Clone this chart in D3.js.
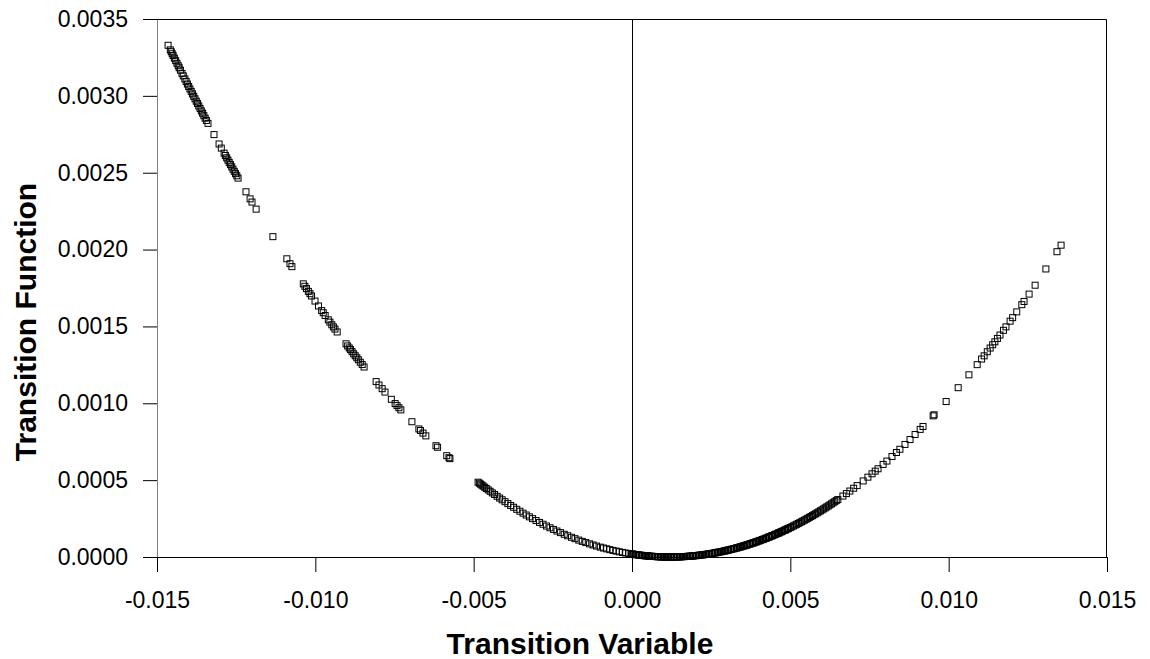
<!DOCTYPE html>
<html>
<head>
<meta charset="utf-8">
<script src="https://cdn.jsdelivr.net/npm/d3@7"></script>
<style>
  body { margin: 0; background: #fff; }
  text { font-family: "Liberation Sans", Arial, sans-serif; }
</style>
</head>
<body>
<div id="chart"></div>
<script>
// values (transition variable, transition function)
let leftX = [-0.01465, -0.01458, -0.01455, -0.01452, -0.01449, -0.01445, -0.01441, -0.01437, -0.01433, -0.01430,
  -0.01426, -0.01421, -0.01417, -0.01412, -0.01408, -0.01404, -0.01400, -0.01396, -0.01392, -0.01388,
  -0.01384, -0.01380, -0.01376, -0.01372, -0.01368, -0.01364, -0.01360, -0.01356, -0.01352, -0.01348,
  -0.01344, -0.01339, -0.01320, -0.01304, -0.01297,
  -0.01288, -0.01284, -0.01280, -0.01276, -0.01272, -0.01268, -0.01264, -0.01260, -0.01256, -0.01252,
  -0.01248, -0.01244, -0.01219, -0.01206, -0.01200, -0.01187, -0.01134, -0.01090, -0.01080, -0.01074,
  -0.01038, -0.01033, -0.01028, -0.01022, -0.01017, -0.01012, -0.01001, -0.00990, -0.00980, -0.00975,
  -0.00969, -0.00959, -0.00954, -0.00948, -0.00943, -0.00938, -0.00931,
  -0.00903, -0.00898, -0.00893, -0.00889, -0.00884, -0.00879, -0.00874, -0.00869, -0.00864, -0.00858,
  -0.00852, -0.00846, -0.00808, -0.00799, -0.00789, -0.00780, -0.00760, -0.00748, -0.00742, -0.00736,
  -0.00730, -0.00695, -0.00673, -0.00668, -0.00660, -0.00651, -0.00619, -0.00614, -0.00585, -0.00578,
  -0.00575];
let leftY = [0.003329, 0.003299, 0.003287, 0.003274, 0.003262, 0.003245, 0.003229, 0.003212, 0.003196, 0.003183,
  0.003167, 0.003146, 0.003130, 0.003110, 0.003094, 0.003077, 0.003061, 0.003045, 0.003029, 0.003013,
  0.002997, 0.002981, 0.002965, 0.002950, 0.002934, 0.002918, 0.002902, 0.002887, 0.002871, 0.002855,
  0.002840, 0.002821, 0.002748, 0.002687, 0.002660,
  0.002627, 0.002612, 0.002597, 0.002582, 0.002567, 0.002553, 0.002538, 0.002523, 0.002509, 0.002494,
  0.002480, 0.002465, 0.002376, 0.002330, 0.002309, 0.002263, 0.002084, 0.001940, 0.001908, 0.001889,
  0.001777, 0.001761, 0.001746, 0.001728, 0.001713, 0.001698, 0.001665, 0.001633, 0.001603, 0.001589,
  0.001571, 0.001543, 0.001528, 0.001511, 0.001497, 0.001483, 0.001464,
  0.001387, 0.001373, 0.001360, 0.001349, 0.001336, 0.001322, 0.001309, 0.001296, 0.001283, 0.001267,
  0.001252, 0.001236, 0.001141, 0.001119, 0.001095, 0.001073, 0.001026, 0.000998, 0.000985, 0.000971,
  0.000957, 0.000880, 0.000833, 0.000823, 0.000806, 0.000788, 0.000724, 0.000714, 0.000659, 0.000646,
  0.000640];

let midX = [-0.00486, -0.00482, -0.00478, -0.00474, -0.00470, -0.00465, -0.00460, -0.00454, -0.00448, -0.00441,
  -0.00434, -0.00426, -0.00418, -0.00410, -0.00401, -0.00392, -0.00383, -0.00374, -0.00364, -0.00354,
  -0.00344, -0.00334, -0.00324, -0.00314, -0.00303, -0.00292, -0.00281, -0.00270, -0.00259, -0.00248,
  -0.00237, -0.00226, -0.00214, -0.00203, -0.00191, -0.00180, -0.00168, -0.00157, -0.00146, -0.00134,
  -0.00123, -0.00112, -0.00100, -0.00090, -0.00080, -0.00070, -0.00060, -0.00050, -0.00040, -0.00030,
  -0.00020, -0.00010, -0.00003];
let midY = [0.0004866, 0.0004802, 0.0004738, 0.0004675, 0.0004612, 0.0004534, 0.0004457, 0.0004366, 0.0004275, 0.0004170,
  0.0004067, 0.0003950, 0.0003835, 0.0003722, 0.0003597, 0.0003473, 0.0003352, 0.0003234, 0.0003104, 0.0002977,
  0.0002853, 0.0002731, 0.0002612, 0.0002496, 0.0002371, 0.0002249, 0.0002131, 0.0002015, 0.0001903, 0.0001794,
  0.0001689, 0.0001586, 0.0001478, 0.0001382, 0.0001282, 0.0001193, 0.0001099, 0.0001017, 0.0000938, 0.0000855,
  0.0000782, 0.0000713, 0.0000641, 0.0000584, 0.0000530, 0.0000478, 0.0000429, 0.0000383, 0.0000339, 0.0000298,
  0.0000260, 0.0000224, 0.0000200];

let rightX = [0.00000, 0.00005, 0.00010, 0.00015, 0.00020, 0.00025, 0.00030, 0.00035, 0.00040, 0.00045,
  0.00050, 0.00055, 0.00060, 0.00065, 0.00070, 0.00075, 0.00080, 0.00085, 0.00090, 0.00095,
  0.00100, 0.00105, 0.00110, 0.00115, 0.00120, 0.00125, 0.00130, 0.00135, 0.00140, 0.00145,
  0.00150, 0.00155, 0.00160, 0.00165, 0.00170, 0.00175, 0.00180, 0.00185, 0.00190, 0.00195,
  0.00200, 0.00205, 0.00210, 0.00215, 0.00220, 0.00225, 0.00230, 0.00235, 0.00240, 0.00245,
  0.00250, 0.00255, 0.00260, 0.00265, 0.00270, 0.00275, 0.00280, 0.00285, 0.00290, 0.00295,
  0.00300, 0.00305, 0.00310, 0.00315, 0.00320, 0.00325, 0.00330, 0.00335, 0.00340, 0.00345,
  0.00350, 0.00355, 0.00360, 0.00365, 0.00370, 0.00375, 0.00380, 0.00385, 0.00390, 0.00395,
  0.00400, 0.00405, 0.00410, 0.00415, 0.00420, 0.00425, 0.00430, 0.00435, 0.00440, 0.00445,
  0.00450, 0.00455, 0.00460, 0.00465, 0.00470, 0.00475, 0.00480, 0.00485, 0.00490, 0.00495,
  0.00500, 0.00505, 0.00510, 0.00515, 0.00520, 0.00525, 0.00530, 0.00535, 0.00540, 0.00545,
  0.00550, 0.00555, 0.00560, 0.00565, 0.00570, 0.00575, 0.00580, 0.00585, 0.00590, 0.00595,
  0.00600, 0.00605, 0.00610, 0.00615, 0.00620, 0.00625, 0.00630, 0.00635, 0.00640, 0.00645,
  0.00650, 0.00666, 0.00677, 0.00688, 0.00700, 0.00711, 0.00730, 0.00745, 0.00758, 0.00768,
  0.00777, 0.00793, 0.00805, 0.00821, 0.00835, 0.00846, 0.00862, 0.00878, 0.00894, 0.00910,
  0.00919, 0.00951, 0.00954, 0.00992, 0.01030, 0.01064, 0.01090, 0.01104, 0.01112, 0.01122,
  0.01131, 0.01139, 0.01146, 0.01154, 0.01162, 0.01173, 0.01181, 0.01194, 0.01202, 0.01215,
  0.01231, 0.01238, 0.01254, 0.01273, 0.01307, 0.01342, 0.01355];
let rightY = [0.0000192, 0.0000176, 0.0000161, 0.0000147, 0.0000133, 0.0000120, 0.0000108, 0.0000096, 0.0000085, 0.0000075,
  0.0000065, 0.0000056, 0.0000048, 0.0000040, 0.0000033, 0.0000027, 0.0000021, 0.0000016, 0.0000012, 0.0000008,
  0.0000005, 0.0000003, 0.0000001, 0.0000000, 0.0000000, 0.0000000, 0.0000001, 0.0000003, 0.0000005, 0.0000008,
  0.0000012, 0.0000016, 0.0000021, 0.0000027, 0.0000033, 0.0000040, 0.0000048, 0.0000056, 0.0000065, 0.0000075,
  0.0000085, 0.0000096, 0.0000108, 0.0000120, 0.0000133, 0.0000147, 0.0000161, 0.0000176, 0.0000192, 0.0000208,
  0.0000225, 0.0000242, 0.0000261, 0.0000280, 0.0000299, 0.0000320, 0.0000340, 0.0000362, 0.0000384, 0.0000407,
  0.0000431, 0.0000455, 0.0000480, 0.0000506, 0.0000532, 0.0000559, 0.0000587, 0.0000615, 0.0000644, 0.0000673,
  0.0000704, 0.0000734, 0.0000766, 0.0000798, 0.0000831, 0.0000865, 0.0000899, 0.0000934, 0.0000970, 0.0001006,
  0.0001043, 0.0001080, 0.0001119, 0.0001157, 0.0001197, 0.0001237, 0.0001278, 0.0001320, 0.0001362, 0.0001405,
  0.0001448, 0.0001493, 0.0001537, 0.0001583, 0.0001629, 0.0001676, 0.0001724, 0.0001772, 0.0001821, 0.0001870,
  0.0001921, 0.0001971, 0.0002023, 0.0002075, 0.0002128, 0.0002182, 0.0002236, 0.0002291, 0.0002346, 0.0002402,
  0.0002459, 0.0002517, 0.0002575, 0.0002634, 0.0002693, 0.0002753, 0.0002814, 0.0002876, 0.0002938, 0.0003001,
  0.0003064, 0.0003129, 0.0003193, 0.0003259, 0.0003325, 0.0003392, 0.0003459, 0.0003527, 0.0003596, 0.0003666,
  0.0003736, 0.0003965, 0.0004126, 0.0004291, 0.0004474, 0.0004645, 0.0004949, 0.0005195, 0.0005414, 0.0005585,
  0.0005741, 0.0006024, 0.0006241, 0.0006536, 0.0006799, 0.0007010, 0.0007322, 0.0007642, 0.0007968, 0.0008301,
  0.0008491, 0.0009184, 0.0009251, 0.0010113, 0.0011014, 0.0011852, 0.0012514, 0.0012878, 0.0013088, 0.0013353,
  0.0013594, 0.0013810, 0.0014000, 0.0014220, 0.0014441, 0.0014747, 0.0014972, 0.0015341, 0.0015571, 0.0015947,
  0.0016416, 0.0016624, 0.0017103, 0.0017681, 0.0018739, 0.0019861, 0.0020286];

// extra points in the dense black band right of zero
let bandX = [0.000025, 0.000125, 0.000225, 0.000325, 0.000425, 0.000525, 0.000625, 0.000725, 0.000825, 0.000925,
  0.001025, 0.001125, 0.001225, 0.001325, 0.001425, 0.001525, 0.001625, 0.001725, 0.001825, 0.001925,
  0.002025, 0.002125, 0.002225, 0.002325, 0.002425, 0.002525, 0.002625, 0.002725, 0.002825, 0.002925,
  0.003025, 0.003125, 0.003225, 0.003325, 0.003425, 0.003525, 0.003625, 0.003725, 0.003825, 0.003925,
  0.004025, 0.004125, 0.004225, 0.004325, 0.004425, 0.004525, 0.004625, 0.004725, 0.004825, 0.004925];
let bandY = [0.0000184, 0.0000154, 0.0000126, 0.0000102, 0.0000080, 0.0000061, 0.0000044, 0.0000030, 0.0000019, 0.0000010,
  0.0000004, 0.0000001, 0.0000000, 0.0000002, 0.0000007, 0.0000014, 0.0000024, 0.0000037, 0.0000052, 0.0000070,
  0.0000091, 0.0000114, 0.0000140, 0.0000168, 0.0000200, 0.0000233, 0.0000270, 0.0000309, 0.0000351, 0.0000396,
  0.0000443, 0.0000493, 0.0000545, 0.0000601, 0.0000658, 0.0000719, 0.0000782, 0.0000848, 0.0000916, 0.0000988,
  0.0001061, 0.0001138, 0.0001217, 0.0001299, 0.0001383, 0.0001470, 0.0001560, 0.0001653, 0.0001748, 0.0001845];

let xTicks = [-0.015, -0.010, -0.005, 0.000, 0.005, 0.010, 0.015];
let yTicks = [0.0000, 0.0005, 0.0010, 0.0015, 0.0020, 0.0025, 0.0030, 0.0035];

//svg properties
let svgWidth = 1150;
let svgHeight = 659;
let margin = { top: 19, right: 43, bottom: 102, left: 157 };
let width = svgWidth - margin.left - margin.right;
let height = svgHeight - margin.top - margin.bottom;

let svg = d3.select("#chart")
  .append("svg")
  .attr("width", svgWidth)
  .attr("height", svgHeight);

let chartGroup = svg.append("g")
  .attr("transform", `translate(${margin.left}, ${margin.top})`);

// join the arrays into points
let points = [];
leftX.forEach((x, i) => points.push({ x: x, y: leftY[i] }));
midX.forEach((x, i) => points.push({ x: x, y: midY[i] }));
rightX.forEach((x, i) => points.push({ x: x, y: rightY[i] }));
bandX.forEach((x, i) => points.push({ x: x, y: bandY[i] }));

let xScale = d3.scaleLinear().domain([-0.015, 0.015]).range([0, width]);
let yScale = d3.scaleLinear().domain([0, 0.0035]).range([height, 0]);

// plain hyphen for negatives, like the original
let fmt = f => d => d3.format(f)(d).replace("\u2212", "-");

// axes
let bottomAxis = d3.axisBottom(xScale)
  .tickValues(xTicks)
  .tickSize(15)
  .tickPadding(20)
  .tickFormat(fmt(".3f"));
let leftAxis = d3.axisLeft(yScale)
  .tickValues(yTicks)
  .tickSize(14)
  .tickPadding(15)
  .tickFormat(fmt(".4f"));

let xAxis = chartGroup.append("g")
  .attr("transform", `translate(0,${height})`)
  .call(bottomAxis);
let yAxis = chartGroup.append("g")
  .call(leftAxis);

[xAxis, yAxis].forEach(ax => {
  ax.selectAll("text")
    .style("font-size", "23px")
    .attr("fill", "#000");
  ax.selectAll("line").attr("stroke", "#000");
});
xAxis.select(".domain").attr("stroke", "#000").attr("d", `M0,0.5H${width}`);
yAxis.select(".domain").attr("stroke", "#808080").attr("d", `M0.5,0V${height}`);

// top and right border
chartGroup.append("path")
  .attr("d", `M0,0.5H${width - 0.5}V${height}`)
  .attr("fill", "none")
  .attr("stroke", "#000");

// vertical line at zero
chartGroup.append("line")
  .attr("x1", Math.round(xScale(0)) + 0.5)
  .attr("x2", Math.round(xScale(0)) + 0.5)
  .attr("y1", 0)
  .attr("y2", height)
  .attr("stroke", "#000");

// markers
let s = 6;
chartGroup.selectAll("rect.pt")
  .data(points)
  .enter()
  .append("rect")
  .attr("class", "pt")
  .attr("x", d => xScale(d.x) - s / 2)
  .attr("y", d => yScale(d.y) - s / 2)
  .attr("width", s)
  .attr("height", s)
  .attr("fill", "none")
  .attr("stroke", "#000")
  .attr("stroke-width", 1);

// axis titles
svg.append("text")
  .attr("x", 580)
  .attr("y", 654)
  .attr("text-anchor", "middle")
  .style("font-size", "30px")
  .style("font-weight", "bold")
  .text("Transition Variable");

svg.append("text")
  .attr("transform", "translate(36, 322) rotate(-90)")
  .attr("text-anchor", "middle")
  .style("font-size", "30px")
  .style("font-weight", "bold")
  .text("Transition Function");
</script>
</body>
</html>
